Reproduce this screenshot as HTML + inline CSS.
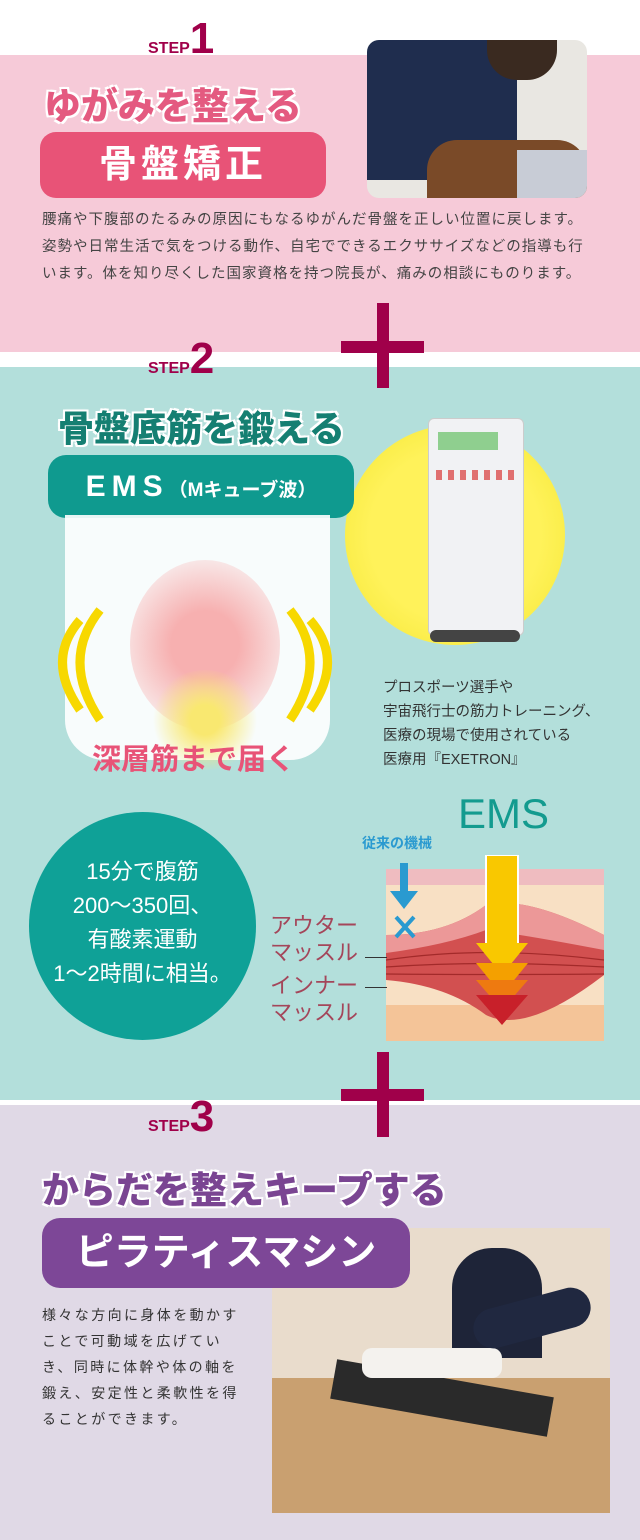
<!DOCTYPE html>
<html><head><meta charset="utf-8"><style>
*{margin:0;padding:0;box-sizing:border-box}
body{width:640px;height:1540px;position:relative;overflow:hidden;background:#fff;font-family:"Liberation Sans","Noto Sans CJK JP",sans-serif}
.a{position:absolute}
.step{font-weight:bold;color:#a0004a;white-space:nowrap}
.step span{font-size:16px}
.step b{font-size:44px;font-family:"Liberation Sans Narrow","Liberation Sans",sans-serif}
.plus1{background:#a0004a}
.btn{border-radius:16px;color:#fff;font-weight:bold;text-align:center}
.tx{font-size:14.5px;color:#444;line-height:27px;letter-spacing:1px;white-space:nowrap}
.ttl{font-weight:900;white-space:nowrap;text-shadow:0 0 3px #fff,0 0 3px #fff,2px 2px 0 #fff,-2px -2px 0 #fff,2px -2px 0 #fff,-2px 2px 0 #fff}
</style></head><body>
<div class="a" style="left:0;top:55px;width:640px;height:297px;background:#f6cad8"></div>
<div class="a" style="left:0;top:367px;width:640px;height:733px;background:#b3dfdb"></div>
<div class="a" style="left:0;top:1105px;width:640px;height:435px;background:#e0d9e6"></div>

<div class="a step" style="left:148px;top:14px"><span>STEP</span><b>1</b></div>
<div class="a ttl" style="left:44px;top:76px;font-size:37px;color:#e45a80">ゆがみを整える</div>
<div class="a btn" style="left:40px;top:132px;width:286px;height:66px;background:#e85377;font-size:38px;line-height:66px;letter-spacing:4px">骨盤矯正</div>
<div class="a" style="left:367px;top:40px;width:220px;height:158px;border-radius:12px;overflow:hidden;background:#e9e7e2">
 <div class="a" style="left:0;top:0;width:150px;height:140px;background:#1f2d4e;border-radius:0 0 40px 0"></div>
 <div class="a" style="left:120px;top:0;width:70px;height:40px;background:#3a2a20;border-radius:0 0 30px 30px"></div>
 <div class="a" style="left:60px;top:100px;width:160px;height:60px;background:#7a4a28;border-radius:30px 30px 0 0"></div>
 <div class="a" style="left:150px;top:110px;width:70px;height:50px;background:#c8ccd6"></div>
</div>
<div class="a tx" style="left:42px;top:207px">腰痛や下腹部のたるみの原因にもなるゆがんだ骨盤を正しい位置に戻します。<br>姿勢や日常生活で気をつける動作、自宅でできるエクササイズなどの指導も行<br>います。体を知り尽くした国家資格を持つ院長が、痛みの相談にものります。</div>
<div class="a plus1" style="left:341px;top:341px;width:83px;height:12px"></div>
<div class="a plus1" style="left:377px;top:303px;width:12px;height:85px"></div>

<div class="a step" style="left:148px;top:334px"><span>STEP</span><b>2</b></div>
<div class="a ttl" style="left:58px;top:400px;font-size:36px;color:#157f72">骨盤底筋を鍛える</div>
<div class="a" style="left:345px;top:425px;width:220px;height:220px;border-radius:50%;background:radial-gradient(circle,#fff25a 55%,#fbee4c 70%,rgba(250,240,80,0.3) 100%)"></div>
<div class="a" style="left:428px;top:418px;width:96px;height:218px;background:#f1f2f4;border:1px solid #ccc;border-radius:6px"></div>
<div class="a" style="left:438px;top:432px;width:60px;height:18px;background:#8fcf8f"></div>
<div class="a" style="left:436px;top:470px;width:80px;height:10px;background:repeating-linear-gradient(90deg,#e07070 0 6px,#f1f2f4 6px 12px)"></div>
<div class="a" style="left:430px;top:630px;width:90px;height:12px;border-radius:6px;background:#444"></div>
<div class="a btn" style="left:48px;top:455px;width:306px;height:63px;background:#0f9a8f;font-size:30px;line-height:63px;border-radius:18px"><span style="letter-spacing:6px">EMS</span><span style="font-size:19px">（Mキューブ波）</span></div>
<div class="a" style="left:65px;top:515px;width:265px;height:245px;background:#fff;border-radius:0 0 40px 40px;opacity:.9"></div>
<div class="a" style="left:130px;top:560px;width:150px;height:170px;border-radius:50%;background:radial-gradient(circle,#f7b0b0 30%,rgba(247,176,176,0.2) 80%)"></div>
<div class="a" style="left:150px;top:670px;width:110px;height:100px;border-radius:50%;background:radial-gradient(circle,#f9e870 20%,rgba(249,232,112,0) 70%)"></div>
<svg class="a" style="left:30px;top:600px" width="330" height="140"><g fill="none" stroke="#f7d800" stroke-width="9"><path d="M70 10 Q30 60 70 120"/><path d="M50 20 Q15 60 50 110"/><path d="M260 10 Q300 60 260 120"/><path d="M280 20 Q315 60 280 110"/></g></svg>
<div class="a" style="left:92px;top:736px;font-size:29px;font-weight:bold;color:#e85377;white-space:nowrap">深層筋まで届く</div>
<div class="a" style="left:383px;top:676px;font-size:14.5px;color:#333;line-height:24px;white-space:nowrap">プロスポーツ選手や<br>宇宙飛行士の筋力トレーニング、<br>医療の現場で使用されている<br>医療用『EXETRON』</div>
<div class="a" style="left:458px;top:790px;font-size:42px;color:#139b8f;font-family:'Liberation Sans Narrow','Liberation Sans',sans-serif">EMS</div>
<div class="a" style="left:29px;top:812px;width:227px;height:228px;border-radius:50%;background:#0fa197"></div>
<div class="a" style="left:29px;top:855px;width:227px;text-align:center;color:#fff;font-size:22px;line-height:34px">15分で腹筋<br>200～350回、<br>有酸素運動<br>1～2時間に相当。</div>
<div class="a" style="left:362px;top:833px;font-size:14px;font-weight:bold;color:#2a9ad0;white-space:nowrap">従来の機械</div>
<svg class="a" style="left:386px;top:855px" width="220" height="190">
<rect x="0" y="14" width="218" height="172" fill="#f8e0c4"/>
<rect x="0" y="14" width="218" height="16" fill="#efbcc0"/>
<rect x="0" y="150" width="218" height="36" fill="#f4c498"/>
<path d="M0 80 Q60 80 100 50 Q140 40 218 80 L218 120 Q140 180 100 160 Q60 130 0 125Z" fill="#d25050"/>
<path d="M0 80 Q60 80 100 50 Q140 40 218 80 L218 95 Q140 80 100 75 Q60 90 0 98Z" fill="#ec9898"/>
<g stroke="#a32a2a" stroke-width="1.2" fill="none"><path d="M0 105 Q100 90 218 105"/><path d="M0 112 Q100 105 218 112"/><path d="M0 119 Q100 120 218 119"/></g>
<rect x="14" y="8" width="8" height="30" fill="#2a9ad0"/><path d="M4 36 L32 36 L18 54Z" fill="#2a9ad0"/>
<path d="M10 62 L28 82 M28 62 L10 82" stroke="#2a9ad0" stroke-width="4"/>
<rect x="100" y="0" width="32" height="90" fill="#f9c800" stroke="#fff" stroke-width="2"/>
<path d="M90 88 L142 88 L116 120Z" fill="#f9c800"/>
<path d="M90 108 L142 108 L116 140Z" fill="#f4a000"/>
<path d="M90 125 L142 125 L116 155Z" fill="#ee7a10"/>
<path d="M90 140 L142 140 L116 170Z" fill="#c8202a"/>
</svg>
<div class="a" style="left:270px;top:912px;font-size:22px;color:#a4465a;line-height:27px;white-space:nowrap">アウター<br>マッスル</div>
<div class="a" style="left:270px;top:972px;font-size:22px;color:#a4465a;line-height:27px;white-space:nowrap">インナー<br>マッスル</div>
<div class="a" style="left:365px;top:957px;width:22px;height:1px;background:#333"></div>
<div class="a" style="left:365px;top:987px;width:22px;height:1px;background:#333"></div>
<div class="a plus1" style="left:341px;top:1089px;width:83px;height:12px"></div>
<div class="a plus1" style="left:377px;top:1052px;width:12px;height:85px"></div>

<div class="a step" style="left:148px;top:1092px"><span>STEP</span><b>3</b></div>
<div class="a ttl" style="left:42px;top:1160px;font-size:37px;color:#7a4592">からだを整えキープする</div>
<div class="a" style="left:272px;top:1228px;width:338px;height:285px;background:#e9dccc;overflow:hidden">
 <div class="a" style="left:0;top:150px;width:338px;height:135px;background:#c9a070"></div>
 <div class="a" style="left:180px;top:20px;width:90px;height:110px;background:#1e2438;border-radius:40px 40px 0 0"></div>
 <div class="a" style="left:60px;top:150px;width:220px;height:40px;background:#2a2a2a;transform:rotate(10deg)"></div>
 <div class="a" style="left:90px;top:120px;width:140px;height:30px;background:#f4f2ee;border-radius:10px"></div>
 <div class="a" style="left:200px;top:70px;width:120px;height:40px;background:#202840;border-radius:20px;transform:rotate(-15deg)"></div>
</div>
<div class="a btn" style="left:42px;top:1218px;width:368px;height:70px;background:#7d4797;font-size:38px;line-height:70px;border-radius:18px;white-space:nowrap;z-index:2">ピラティスマシン</div>
<div class="a" style="left:42px;top:1302px;width:208px;font-size:14px;color:#333;line-height:26px;letter-spacing:2.4px">様々な方向に身体を動かすことで可動域を広げていき、同時に体幹や体の軸を鍛え、安定性と柔軟性を得ることができます。</div>
</body></html>
